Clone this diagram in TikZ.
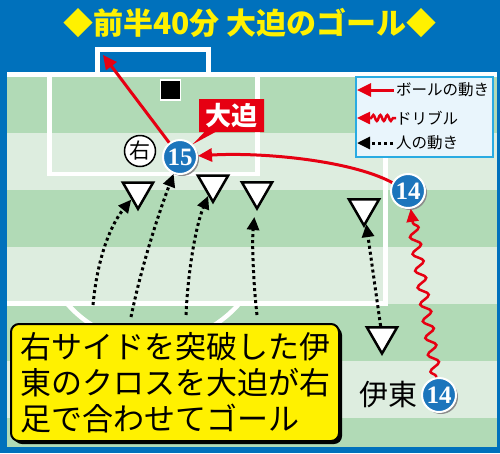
\documentclass[tikz,border=0pt]{standalone}
\usepackage{fontspec}
\usepackage{xcolor}
\usepackage{tikz}
\usetikzlibrary{arrows.meta,shapes.geometric,shapes.callouts,shadows,decorations.pathmorphing}
\newfontfamily\jpfont{Noto Sans CJK JP}
\newfontfamily\numfont{Liberation Serif}
\definecolor{bgblue}{RGB}{0,113,188}
\definecolor{titleyellow}{RGB}{255,241,0}
\definecolor{grassdark}{RGB}{177,218,182}
\definecolor{grasslight}{RGB}{221,237,223}
\definecolor{kickred}{RGB}{230,0,18}
\definecolor{plblue}{RGB}{28,117,188}
\definecolor{legendfill}{RGB}{233,245,252}
\definecolor{legendline}{RGB}{41,171,226}

\begin{document}
\begin{tikzpicture}[x=1pt,y=1pt,yscale=-1,xscale=1,
  player/.style={circle,fill=plblue,draw=white,line width=2pt,minimum size=34pt,inner sep=0pt,
    text=white,font=\numfont\bfseries\fontsize{25}{25}\selectfont,
    drop shadow={shadow xshift=2pt,shadow yshift=-2pt,fill=black!45,opacity=1}},
  defender/.style={regular polygon,regular polygon sides=3,shape border rotate=180,
    fill=white,draw=black,line width=2.5pt,minimum size=35pt,inner sep=0pt},
  pass/.style={draw=kickred,line width=3pt,-{Triangle[length=14pt,width=13pt]}},
  run/.style={draw=black,line width=3pt,dash pattern=on 3pt off 3pt,-{Triangle[length=13pt,width=12pt]}},
  dribble/.style={draw=kickred,line width=2.5pt,-{Triangle[length=13pt,width=12pt]},decorate,
    decoration={snake,segment length=17pt,amplitude=5pt,pre length=1pt,post length=12pt}},
  legendtext/.style={anchor=west,inner sep=0pt,font=\jpfont\fontsize{15.5}{15.5}\selectfont}]
\useasboundingbox (0,0) rectangle (500,453);
%Shape: Rectangle (background)
\fill[bgblue] (0,0) rectangle (500,453);
%Shape: Rectangle (field)
\fill[grasslight] (7,77) rectangle (497,447);
\foreach \ya/\yb in {77/133,190/247,304/361,418/447}
  \fill[grassdark] (7,\ya) rectangle (497,\yb);
%Straight Lines (goal line, goal, boxes)
\draw[white,line width=5pt] (7,74.5) -- (497,74.5);
\draw[white,line width=5pt] (97.5,74) -- (97.5,49.5) -- (208.5,49.5) -- (208.5,74);
\draw[white,line width=4.5pt] (49.5,76) -- (49.5,174) -- (257.5,174) -- (257.5,76);
\draw[white,line width=4.5pt] (7,303.5) -- (385.5,303.5) -- (385.5,76);
\draw[white,line width=4.5pt] (67,303.5) arc[start angle=139.1,end angle=40.9,radius=114];
% Text Node (title)
\node[text=titleyellow,font=\jpfont\bfseries\fontsize{30}{30}\selectfont] (title) at (250,23) {◆前半40分 大迫のゴール◆};
%Shape: Square
\node[fill=black,draw=white,line width=1.5pt,minimum size=20pt,inner sep=0pt] (mark) at (170.5,90) {};
%Shape: Legend
\node[fill=legendfill,draw=legendline,line width=2pt,minimum width=137pt,minimum height=80pt] (legend) at (424.5,117) {};
\node[legendtext] (lgball) at (396,90) {ボールの動き};
\node[legendtext] (lgdribble) at (396,118) {ドリブル};
\node[legendtext] (lgrun) at (396,143) {人の動き};
\coordinate (lgballtip) at (357,90);
\coordinate (lgdribbletip) at (357,118);
\coordinate (lgruntip) at (357,143);
\draw[pass,shorten <=2pt] (lgball.west) -- (lgballtip);
\draw[dribble,decoration={snake,segment length=7pt,amplitude=3pt,pre length=3pt,post length=12pt}] (lgdribble.west) -- (lgdribbletip);
\draw[run,shorten <=3pt] (lgrun.west) -- (lgruntip);
%Shape: Players
\node[player] (p15) at (180,157) {15};
\node[player] (p14a) at (408,191) {14};
\node[player] (p14b) at (439,395) {14};
\node[circle,fill=white,draw=black,line width=1.5pt,minimum size=31pt,inner sep=0pt,
  font=\jpfont\fontsize{21}{21}\selectfont] (right) at (140,151) {右};
%Shape: Defenders
\node[defender] (d1) at (138,191.3) {};
\node[defender] (d2) at (213,184.3) {};
\node[defender] (d3) at (257,191) {};
\node[defender] (d4) at (364,208) {};
\node[defender] (d5) at (382,336) {};
% Text Node (name tag)
\node[rectangle callout,fill=kickred,text=white,minimum width=65pt,minimum height=33pt,inner sep=0pt,
  callout absolute pointer={(p15.north east)},callout pointer width=11pt,
  font=\jpfont\bfseries\fontsize{26}{26}\selectfont] (osako) at (231.5,115.5) {大迫};
\node[font=\jpfont\fontsize{29}{29}\selectfont,inner sep=0pt] (ito) at (388,395) {伊東};
%Straight Lines (ball)
\coordinate (goaltip) at (103,55);
\draw[pass] (p15) -- (goaltip);
\draw[pass] (p14a) .. controls (350,160) and (260,152) .. (p15);
\draw[dribble] (p14b) -- (p14a);
%Straight Lines (runs)
\coordinate (a1s) at (93,305);
\coordinate (a2s) at (131,317);
\coordinate (a3s) at (186,315);
\coordinate (a4s) at (257,315);
\draw[run] (a1s) .. controls (98,252) and (113,222) .. (d1);
\draw[run] (a2s) .. controls (141,268) and (158,215) .. (p15);
\draw[run] (a3s) .. controls (188,270) and (196,225) .. (d2);
\draw[run,shorten >=9pt] (a4s) .. controls (253,280) and (252,240) .. (d3);
\draw[run] (d5) -- (d4);
%Shape: Message box
\node[fill=titleyellow,draw=black,line width=2pt,rounded corners=8pt,anchor=north west,
  minimum width=328pt,minimum height=117pt,inner xsep=8pt,align=left,
  drop shadow={shadow xshift=3pt,shadow yshift=-3pt,fill=black,opacity=1},
  font=\jpfont\fontsize{31}{36}\selectfont] (msg) at (10,323)
  {右サイドを突破した伊\\東のクロスを大迫が右\\足で合わせてゴール};
\end{tikzpicture}
\end{document}
